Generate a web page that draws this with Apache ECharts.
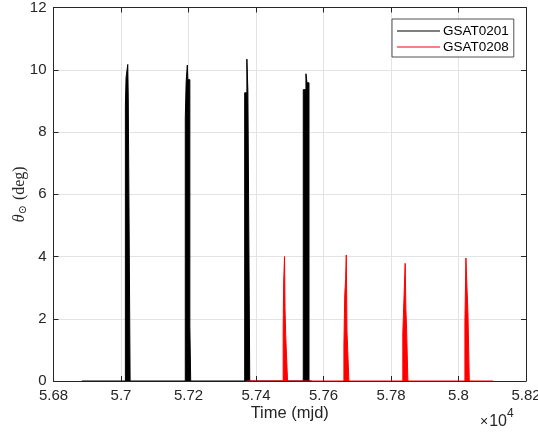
<!DOCTYPE html>
<html>
<head>
<meta charset="utf-8">
<script src="https://cdn.jsdelivr.net/npm/echarts@6/dist/echarts.min.js"></script>
<style>
html,body{margin:0;padding:0;background:#fff;}
#c{width:538px;height:434px;}
</style>
</head>
<body>
<div id="c"></div>
<script>
// Axis ranges (x in MJD, y in degrees)
const xMin = 56800, xMax = 58200, xStep = 200;
const yMin = 0, yMax = 12, yStep = 2;
const seriesNames = ['GSAT0201', 'GSAT0208'];

// Baseline extents [start, end] in MJD
const span0201 = [56884, 57565];
const span0208 = [57372, 58103];

// Spikes as steps: [startMJD, endMJD, theta(deg)]
const spikes0201 = [
  [[57013, 57015, 8.85], [57015, 57020, 9.75], [57020, 57021.5, 10.17], [57021.5, 57027, 9.1]],
  [[57190.5, 57193, 8.45], [57193, 57196.5, 9.6], [57196.5, 57198, 10.15], [57198, 57204, 9.68], [57204, 57206.5, 1.77]],
  [[57366.5, 57373, 9.26], [57373, 57376, 10.34], [57376, 57381.5, 9.3]],
  [[57540, 57548, 9.36], [57548, 57551, 9.87], [57551, 57557, 9.58]]
];
const spikes0208 = [
  [[57480.5, 57482, 1.66], [57482, 57484.5, 3.18], [57484.5, 57486, 4.0], [57486, 57488, 2.34], [57488, 57493.5, 1.48]],
  [[57660.5, 57663, 1.16], [57663, 57665.5, 2.77], [57665.5, 57667.5, 3.25], [57667.5, 57669.5, 4.05], [57669.5, 57675.3, 1.62]],
  [[57835, 57840, 1.55], [57840, 57842, 3.15], [57842, 57844, 3.78], [57844, 57846, 2.35], [57846, 57850, 1.77]],
  [[58019, 58022, 1.91], [58022, 58025, 3.95], [58025, 58028, 3.03], [58028, 58032, 2.2]]
];

function build(span, spikes) {
  const pts = [[span[0], 0]];
  spikes.forEach(sp => {
    pts.push([sp[0][0], 0]);
    sp.forEach(s => { pts.push([s[0], s[2]]); pts.push([s[1], s[2]]); });
    pts.push([sp[sp.length - 1][1], 0]);
  });
  pts.push([span[1], 0]);
  return pts;
}

const axisColor = '#262626';
const gridColor = '#e3e3e3';
const font = 'Liberation Sans, Arial, Helvetica, sans-serif';
const serif = 'Liberation Serif, DejaVu Serif, serif';
// thin line legend icon (bounding box 43x10, stroke in the middle)
const lineIcon = 'path://M0,0h0.01v0.01h-0.01z M0,4.6h43v0.8h-43z M42.99,9.99h0.01v0.01h-0.01z';

const chart = echarts.init(document.getElementById('c'), null, {renderer: 'canvas'});
chart.setOption({
  animation: false,
  backgroundColor: '#ffffff',
  grid: {left: 53.5, right: 12, top: 7.5, bottom: 53, containLabel: false, outerBoundsMode: 'none'},
  legend: {
    orient: 'vertical',
    left: 392, top: 19,
    padding: [5, 5, 3, 5],
    itemWidth: 43, itemHeight: 10, itemGap: 2,
    backgroundColor: '#ffffff',
    borderColor: axisColor, borderWidth: 0.8, borderRadius: 0,
    textStyle: {fontFamily: font, fontSize: 13.5, color: '#000', padding: [0, 0, 0, -2]},
    data: [{name: seriesNames[0], icon: lineIcon}, {name: seriesNames[1], icon: lineIcon}]
  },
  xAxis: [{
    type: 'value', min: xMin, max: xMax, interval: xStep, position: 'bottom',
    axisLine: {show: true, onZero: false, lineStyle: {color: axisColor, width: 1}},
    axisTick: {show: true, inside: true, length: 5, lineStyle: {color: axisColor}},
    axisLabel: {margin: 7, color: axisColor, fontFamily: font, fontSize: 15,
      formatter: v => String(parseFloat((v / 10000).toFixed(2)))},
    splitLine: {show: true, lineStyle: {color: gridColor, width: 1}},
    name: 'Time (mjd)', nameLocation: 'middle', nameGap: 24, nameMoveOverlap: false,
    nameTextStyle: {color: axisColor, fontFamily: font, fontSize: 16.5}
  }, {
    type: 'value', min: xMin, max: xMax, interval: xStep, position: 'top',
    axisLine: {show: true, onZero: false, lineStyle: {color: axisColor, width: 1}},
    axisTick: {show: true, inside: true, length: 5, lineStyle: {color: axisColor}},
    axisLabel: {show: false}, splitLine: {show: false}
  }],
  yAxis: [{
    type: 'value', min: yMin, max: yMax, interval: yStep, position: 'left',
    axisLine: {show: true, onZero: false, lineStyle: {color: axisColor, width: 1}},
    axisTick: {show: true, inside: true, length: 5, lineStyle: {color: axisColor}},
    axisLabel: {margin: 7, color: axisColor, fontFamily: font, fontSize: 15},
    splitLine: {show: true, lineStyle: {color: gridColor, width: 1}},
    name: '{t|θ}{s|⊙}{d| (deg)}', nameLocation: 'middle', nameGap: 25, nameRotate: 90,
    nameMoveOverlap: false,
    nameTextStyle: {color: axisColor, rich: {
      t: {fontFamily: serif, fontStyle: 'italic', fontSize: 16, color: axisColor},
      s: {fontFamily: serif, fontSize: 11, color: axisColor, verticalAlign: 'bottom', padding: [7, 1, 0, 0]},
      d: {fontFamily: serif, fontSize: 16, color: axisColor}
    }}
  }, {
    type: 'value', min: yMin, max: yMax, interval: yStep, position: 'right',
    axisLine: {show: true, onZero: false, lineStyle: {color: axisColor, width: 1}},
    axisTick: {show: true, inside: true, length: 5, lineStyle: {color: axisColor}},
    axisLabel: {show: false}, splitLine: {show: false}
  }],
  graphic: [{
    type: 'text', left: 480, top: 408,
    style: {
      text: '{a|×}{c|10}{b|4}',
      rich: {
        a: {fontFamily: font, fontSize: 14, fill: axisColor, padding: [7, 1, 0, 0]},
        c: {fontFamily: font, fontSize: 16, fill: axisColor, padding: [6, 0, 0, 0]},
        b: {fontFamily: font, fontSize: 12, fill: axisColor, verticalAlign: 'top', padding: [0, 0, 0, 0]}
      }
    }
  }],
  series: [{
    name: seriesNames[0], type: 'line', xAxisIndex: 0, yAxisIndex: 0,
    data: build(span0201, spikes0201), showSymbol: false, symbol: 'none',
    color: '#000000',
    lineStyle: {color: '#000000', width: 1},
    areaStyle: {color: '#000000', opacity: 1},
    z: 2
  }, {
    name: seriesNames[1], type: 'line', xAxisIndex: 0, yAxisIndex: 0,
    data: build(span0208, spikes0208), showSymbol: false, symbol: 'none',
    color: '#ff0000',
    lineStyle: {color: '#ff0000', width: 1},
    areaStyle: {color: '#ff0000', opacity: 1},
    z: 3
  }]
});
</script>
</body>
</html>
